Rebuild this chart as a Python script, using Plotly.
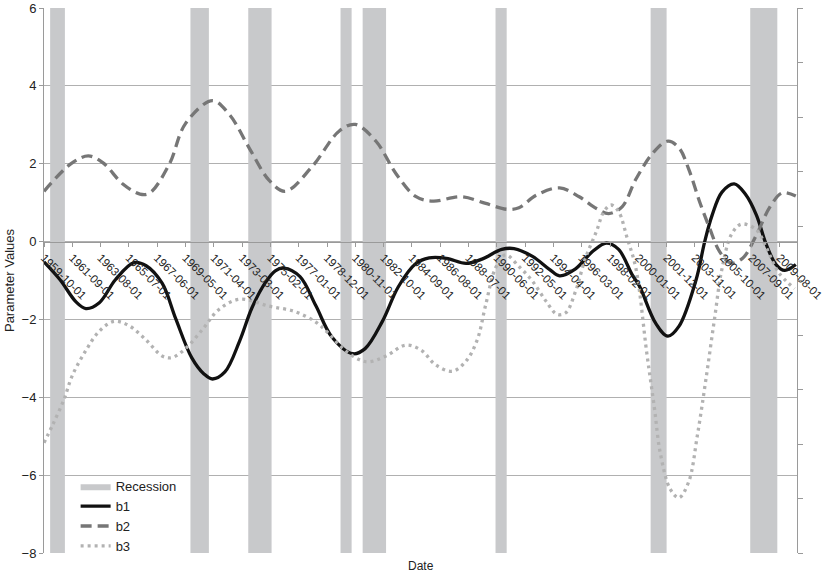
import plotly.graph_objects as go

# ---- data ----
b1_dates = ["1959-10","1960-11","1961-12","1962-08","1963-07","1964-08","1965-11","1966-09",
            "1967-10","1968-09","1969-10","1970-08","1971-03","1972-01","1973-01","1973-11",
            "1974-10","1975-06","1976-01","1977-02","1978-03","1979-04","1980-09","1981-07",
            "1982-09","1983-10","1984-12","1985-11","1987-01","1988-05","1989-06","1990-10",
            "1991-08","1992-11","1994-01","1994-09","1995-10","1996-12","1997-11","1998-09",
            "1999-08","2000-02","2001-03","2002-01","2002-10","2003-12","2004-07","2005-01",
            "2005-09","2006-07","2007-04","2008-01","2008-09","2009-05","2009-12","2010-09"]
b1_values = [-0.52,-0.98,-1.55,-1.72,-1.57,-0.98,-0.54,-0.62,
             -1.07,-1.98,-2.98,-3.40,-3.53,-3.35,-2.55,-1.70,
             -1.05,-0.75,-0.68,-0.90,-1.65,-2.45,-2.88,-2.75,
             -2.05,-1.16,-0.57,-0.42,-0.43,-0.56,-0.45,-0.20,
             -0.18,-0.38,-0.72,-0.88,-0.70,-0.25,-0.04,-0.20,
             -0.85,-1.15,-2.09,-2.43,-2.18,-0.98,0.00,0.68,
             1.27,1.48,1.22,0.68,-0.08,-0.59,-0.74,-0.59]

b2_dates = ["1959-10","1961-08","1962-10","1963-10","1965-02","1966-04","1966-12","1968-04",
            "1969-05","1971-03","1972-05","1973-09","1975-01","1976-02","1977-12","1979-10",
            "1980-11","1982-04","1983-08","1984-12","1986-02","1988-01","1989-09","1991-02",
            "1991-12","1993-02","1994-09","1996-01","1997-03","1998-01","1998-12","1999-11",
            "2001-01","2002-01","2002-10","2003-06","2004-03","2004-11","2005-07","2006-04",
            "2007-02","2008-01","2008-12","2009-10","2010-09"]
b2_values = [1.29,2.00,2.20,2.02,1.48,1.22,1.25,2.00,
             3.03,3.62,3.25,2.39,1.57,1.29,1.93,2.84,
             3.01,2.57,1.75,1.16,1.04,1.15,0.98,0.83,
             0.87,1.19,1.38,1.15,0.85,0.72,0.90,1.60,
             2.28,2.58,2.41,1.86,1.01,0.34,-0.25,-0.55,
             -0.42,0.17,0.89,1.25,1.17]

b3_dates = ["1959-10","1960-05","1961-02","1961-09","1962-08","1963-07","1964-07","1965-07",
            "1966-09","1967-10","1968-06","1969-05","1970-07","1971-08","1973-01","1975-01",
            "1976-10","1978-03","1979-01","1980-01","1981-02","1981-10","1982-12","1984-04",
            "1985-05","1986-04","1987-06","1988-05","1989-02","1989-09","1990-05","1991-01",
            "1991-12","1992-11","1993-10","1994-07","1995-02","1995-10","1996-06","1997-03",
            "1997-09","1998-03","1998-09","1999-04","1999-11","2000-08","2001-02","2001-07",
            "2002-03","2002-10","2003-06","2004-01","2004-08","2005-03","2005-09","2006-05",
            "2007-01","2008-01","2008-09","2009-07","2010-08"]
b3_values = [-5.17,-4.71,-4.07,-3.44,-2.80,-2.30,-2.05,-2.16,
             -2.53,-2.94,-2.98,-2.75,-2.25,-1.75,-1.48,-1.66,
             -1.80,-2.07,-2.35,-2.75,-3.03,-3.09,-2.94,-2.66,
             -2.80,-3.16,-3.33,-3.07,-2.53,-1.62,-0.68,-0.34,
             -0.64,-1.02,-1.53,-1.87,-1.83,-1.28,-0.43,0.26,
             0.77,0.94,0.77,0.09,-0.68,-2.89,-4.26,-5.45,
             -6.36,-6.58,-6.17,-4.98,-3.53,-1.98,-0.70,0.20,
             0.45,0.30,-0.15,-0.79,-1.21]

recession_start = ["1960-03","1969-09","1973-08","1979-11","1981-05","1990-05","2000-11","2007-08"]
recession_end   = ["1961-03","1970-12","1975-03","1980-08","1982-12","1991-02","2001-12","2009-06"]
recession_level = 1

tick_labels = ["1959-10-01","1961-09-01","1963-08-01","1965-07-01","1967-06-01","1969-05-01",
               "1971-04-01","1973-03-01","1975-02-01","1977-01-01","1978-12-01","1980-11-01",
               "1982-10-01","1984-09-01","1986-08-01","1988-07-01","1990-06-01","1992-05-01",
               "1994-04-01","1996-03-01","1998-02-01","2000-01-01","2001-12-01","2003-11-01",
               "2005-10-01","2007-09-01","2009-08-01"]

FONT = "Liberation Sans, Arial, sans-serif"
GRID = "#b0b0b0"
AXIS = "#9a9a9a"

# recession rectangles built from start/end dates (on the primary, right-hand axis so they sit behind)
rx, ry = [], []
for s, e in zip(recession_start, recession_end):
    rx += [s, s, e, e, s, None]
    ry += [0, recession_level, recession_level, 0, 0, None]

fig = go.Figure()
fig.add_trace(go.Scatter(x=rx, y=ry, yaxis="y", mode="lines", fill="toself",
                         fillcolor="#c8c9cb", line=dict(width=0, color="#c8c9cb"),
                         name="Recession", hoverinfo="skip"))
fig.add_trace(go.Scatter(x=b1_dates, y=b1_values, yaxis="y2", mode="lines", name="b1",
                         line=dict(color="#111111", width=3.3, shape="spline", smoothing=1.0)))
fig.add_trace(go.Scatter(x=b2_dates, y=b2_values, yaxis="y2", mode="lines", name="b2",
                         line=dict(color="#767676", width=3.3, shape="spline", smoothing=1.0,
                                   dash="11px,6px")))
fig.add_trace(go.Scatter(x=b3_dates, y=b3_values, yaxis="y2", mode="lines", name="b3",
                         line=dict(color="#b2b2b2", width=3.3, shape="spline", smoothing=1.0,
                                   dash="3px,4px")))

fig.update_layout(
    width=824, height=578,
    margin=dict(l=44, r=27, t=8, b=25, autoexpand=False),
    paper_bgcolor="white", plot_bgcolor="white",
    font=dict(family=FONT, size=13, color="#222222"),
    showlegend=True,
    legend=dict(x=0.042, y=0.150, xanchor="left", yanchor="top",
                bgcolor="rgba(0,0,0,0)", font=dict(size=13, color="#222222"),
                tracegroupgap=0, itemwidth=30),
    xaxis=dict(
        type="date", range=["1959-10-01", "2010-10-01"],
        anchor="free", position=8/14, automargin=False,
        tickmode="array", tickvals=tick_labels, ticktext=tick_labels,
        tickangle=45, ticks="outside", ticklen=4, tickcolor=AXIS,
        ticklabeloverflow="allow",
        showline=True, linecolor=AXIS, linewidth=1,
        showgrid=False, zeroline=False,
        tickfont=dict(size=11.5, color="#222222"),
    ),
    # right-hand axis: recession indicator (no labels)
    yaxis=dict(
        side="right", range=[0, 1], dtick=0.1, automargin=False,
        showgrid=False, zeroline=False, showline=True, linecolor=AXIS,
        ticks="outside", ticklen=5, tickcolor=AXIS, showticklabels=False,
    ),
    # left-hand axis: parameter values
    yaxis2=dict(
        overlaying="y", side="left", automargin=False,
        range=[-8, 6], dtick=2, showgrid=True, gridcolor=GRID, gridwidth=1,
        zeroline=False, showline=True, linecolor=AXIS, linewidth=1,
        ticks="outside", ticklen=4, tickcolor=AXIS,
        title=dict(text="Parameter Values", font=dict(size=13), standoff=4),
        tickfont=dict(size=13),
    ),
    annotations=[dict(text="Date", xref="paper", yref="paper", x=0.5, y=-0.024,
                      xanchor="center", yanchor="middle", showarrow=False,
                      font=dict(size=12, color="#222222"))],
)

fig.write_html("out.html")
